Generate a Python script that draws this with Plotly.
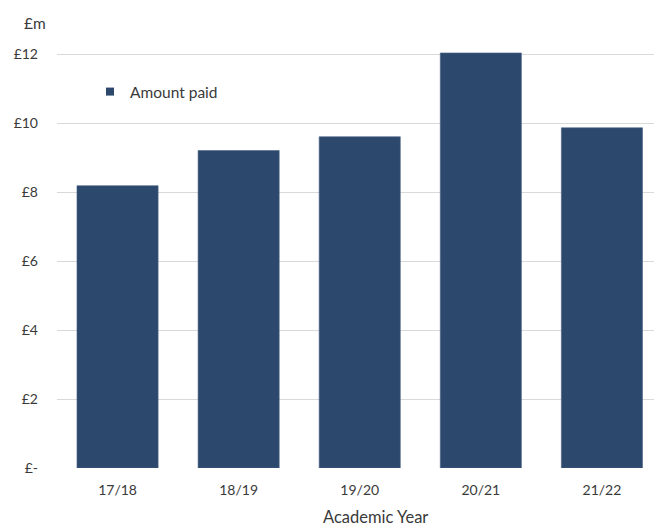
import plotly.graph_objects as go

# Amount paid per academic year (£m)
years = ["17/18", "18/19", "19/20", "20/21", "21/22"]
amount_paid = [8.19, 9.21, 9.61, 12.04, 9.87]

y_ticks = [0, 2, 4, 6, 8, 10, 12]
y_tick_labels = ["£-", "£2", "£4", "£6", "£8", "£10", "£12"]

W, H = 654, 526
L, R, T, B = 57, 0, 44, 58
plot_w = W - L - R
plot_h = H - T - B


def px_x(px):
    return (px - L) / plot_w


def px_y(py):
    return (H - B - py) / plot_h


bar_color = "#2d486d"
text_color = "#3a3a3a"
font = "Lato, 'Open Sans', sans-serif"

fig = go.Figure()
fig.add_trace(go.Bar(
    x=list(range(len(years))),
    y=amount_paid,
    name="Amount paid",
    width=0.67,
    showlegend=False,
    marker=dict(color=bar_color, line=dict(color="#4b6488", width=0.6)),
))
# legend key: small square swatch in the bar colour
fig.add_trace(go.Scatter(
    x=[None], y=[None], mode="markers", name="Amount paid",
    marker=dict(symbol="square", size=8, color=bar_color),
))

fig.update_layout(
    width=W,
    height=H,
    margin=dict(l=L, r=R, t=T, b=B, autoexpand=False),
    paper_bgcolor="white",
    plot_bgcolor="white",
    font=dict(family=font, size=14, color=text_color),
    showlegend=True,
    legend=dict(
        x=px_x(90), y=px_y(92), xanchor="left", yanchor="middle",
        bgcolor="rgba(0,0,0,0)", font=dict(size=15.5, color=text_color),
        itemwidth=30,
    ),
    xaxis=dict(
        range=[-0.5, 4.43],
        tickvals=list(range(len(years))),
        ticktext=years,
        showgrid=False,
        zeroline=False,
        showline=False,
        ticks="",
        ticklabelstandoff=12,
    ),
    yaxis=dict(
        range=[0, 12.3],
        tickvals=y_ticks,
        ticktext=y_tick_labels,
        showgrid=True,
        gridcolor="#d9d9d9",
        gridwidth=1,
        zeroline=False,
        showline=False,
        ticks="",
        ticklabelstandoff=18,
    ),
    annotations=[
        dict(text="£m", x=px_x(35), y=px_y(23), xref="paper", yref="paper",
             xanchor="center", yanchor="middle", showarrow=False,
             font=dict(size=15.5, color=text_color)),
        dict(text="Academic Year", x=px_x(375), y=px_y(517), xref="paper", yref="paper",
             xanchor="center", yanchor="middle", showarrow=False,
             font=dict(size=16.5, color=text_color)),
    ],
)

fig.write_html("out.html")
